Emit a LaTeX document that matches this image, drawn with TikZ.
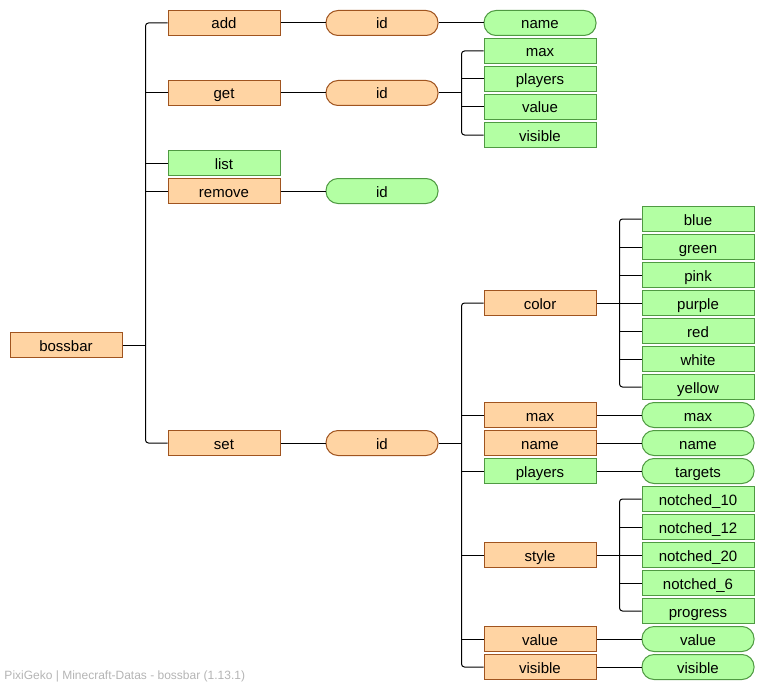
\documentclass[tikz,border=0pt]{standalone}
\usepackage{fontspec}
\setmainfont{Liberation Sans}
\definecolor{cmdfill}{HTML}{FFD4A3}
\definecolor{cmdline}{HTML}{A0541F}
\definecolor{leaffill}{HTML}{B3FFA3}
\definecolor{leafline}{HTML}{4F9A42}
\definecolor{footgray}{HTML}{B4B4B4}
\begin{document}
\begin{tikzpicture}[x=1pt, y=-1pt, line width=1pt,
    every node/.style={minimum width=112pt, minimum height=25pt, inner sep=0pt, text height=12pt, text depth=0pt, font=\fontsize{15}{17}\selectfont},
    cmd/.style={draw=cmdline, fill=cmdfill},
    cmdarg/.style={draw=cmdline, fill=cmdfill, rounded corners=12pt},
    leaf/.style={draw=leafline, fill=leaffill},
    leafarg/.style={draw=leafline, fill=leaffill, rounded corners=12pt},
    branchline/.style={rounded corners=3pt}]

    \useasboundingbox (0,0) rectangle (765,690);

    % root and first level
    \node[cmd] (root) at (66,345) {bossbar};
    \node[cmd] (add) at (224,23) {add};
    \node[cmd] (get) at (224,93) {get};
    \node[leaf] (list) at (224,163) {list};
    \node[cmd] (remove) at (224,191) {remove};
    \node[cmd] (set) at (224,443) {set};

    \coordinate (bus0) at ([xshift=23pt]root.east);
    \draw (root.east) -- (bus0);
    \draw[branchline] (add.west) -| (bus0) |- (set.west);
    \draw (get.west) -- (get.west -| bus0);
    \draw (list.west) -- (list.west -| bus0);
    \draw (remove.west) -- (remove.west -| bus0);

    % add
    \node[cmdarg] (addid) at (382,23) {id};
    \node[leafarg] (addname) at (540,23) {name};
    \draw (add) -- (addid) -- (addname);

    % get
    \node[cmdarg] (getid) at (382,93) {id};
    \node[leaf] (gmax) at (540,51) {max};
    \node[leaf] (gplayers) at (540,79) {players};
    \node[leaf] (gvalue) at (540,107) {value};
    \node[leaf] (gvisible) at (540,135) {visible};
    \draw (get) -- (getid);
    \coordinate (bus1) at ([xshift=23pt]getid.east);
    \draw (getid.east) -- (bus1);
    \draw[branchline] (gmax.west) -| (bus1) |- (gvisible.west);
    \draw (gplayers.west) -- (gplayers.west -| bus1);
    \draw (gvalue.west) -- (gvalue.west -| bus1);

    % remove
    \node[leafarg] (removeid) at (382,191) {id};
    \draw (remove) -- (removeid);

    % set
    \node[cmdarg] (setid) at (382,443) {id};
    \draw (set) -- (setid);
    \node[cmd] (color) at (540,303) {color};
    \node[cmd] (smax) at (540,415) {max};
    \node[cmd] (sname) at (540,443) {name};
    \node[leaf] (splayers) at (540,471) {players};
    \node[cmd] (style) at (540,555) {style};
    \node[cmd] (svalue) at (540,639) {value};
    \node[cmd] (svisible) at (540,667) {visible};
    \coordinate (bus2) at ([xshift=23pt]setid.east);
    \draw (setid.east) -- (bus2);
    \draw[branchline] (color.west) -| (bus2) |- (svisible.west);
    \foreach \n in {smax,splayers,style,svalue}
        \draw (\n.west) -- (\n.west -| bus2);

    % set colors
    \foreach \c/\y in {blue/219,green/247,pink/275,purple/303,red/331,white/359,yellow/387}
        \node[leaf] (c\c) at (698,\y) {\c};
    \coordinate (bus3) at ([xshift=23pt]color.east);
    \draw (color.east) -- (bus3);
    \draw[branchline] (cblue.west) -| (bus3) |- (cyellow.west);
    \foreach \c in {green,pink,purple,red,white}
        \draw (c\c.west) -- (c\c.west -| bus3);

    % set arguments
    \node[leafarg] (maxarg) at (698,415) {max};
    \node[leafarg] (namearg) at (698,443) {name};
    \node[leafarg] (targets) at (698,471) {targets};
    \node[leafarg] (valuearg) at (698,639) {value};
    \node[leafarg] (visiblearg) at (698,667) {visible};
    \draw (smax) -- (maxarg);
    \draw (sname) -- (namearg);
    \draw (splayers) -- (targets);
    \draw (svalue) -- (valuearg);
    \draw (svisible) -- (visiblearg);

    % set styles
    \node[leaf] (s10) at (698,499) {notched\_10};
    \node[leaf] (s12) at (698,527) {notched\_12};
    \node[leaf] (s20) at (698,555) {notched\_20};
    \node[leaf] (s6) at (698,583) {notched\_6};
    \node[leaf] (sprogress) at (698,611) {progress};
    \coordinate (bus4) at ([xshift=23pt]style.east);
    \draw (style.east) -- (bus4);
    \draw[branchline] (s10.west) -| (bus4) |- (sprogress.west);
    \foreach \s in {s12,s20,s6}
        \draw (\s.west) -- (\s.west -| bus4);

    % footer
    \node[minimum width=0pt, minimum height=0pt, text height=, text depth=, anchor=base west, text=footgray, font=\fontsize{12}{14}\selectfont] (footer) at (4,679) {PixiGeko | Minecraft-Datas - bossbar (1.13.1)};
\end{tikzpicture}
\end{document}
